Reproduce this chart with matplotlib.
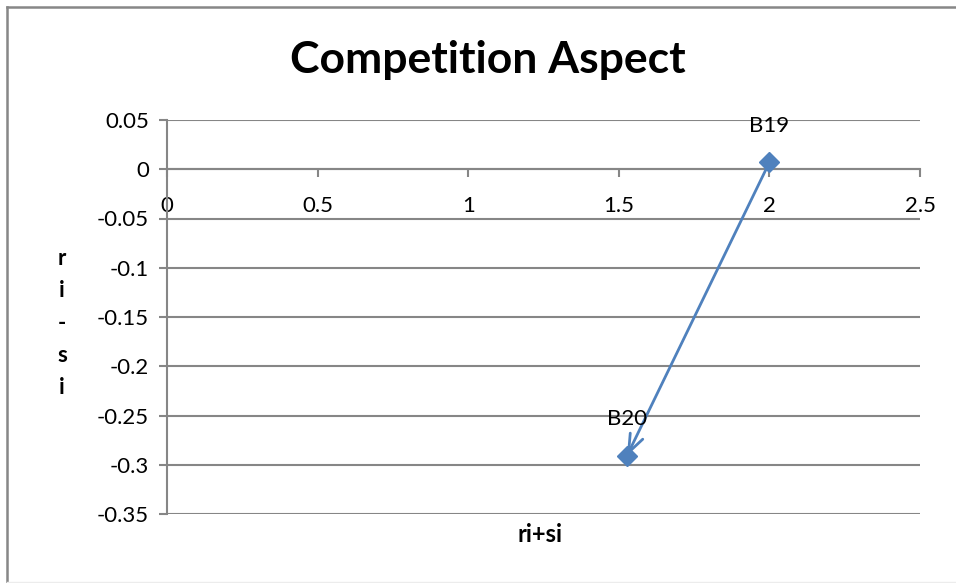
import matplotlib
matplotlib.use("Agg")
import matplotlib.pyplot as plt
from matplotlib.lines import Line2D

plt.rcParams['font.family'] = ['Lato', 'DejaVu Sans']

# Data
labels = ["B19", "B20"]
ri_plus_si = [2.0, 1.527]
ri_minus_si = [0.007, -0.291]

x_ticks = [0, 0.5, 1, 1.5, 2, 2.5]
x_tick_labels = ["0", "0.5", "1", "1.5", "2", "2.5"]
y_ticks = [0.05, 0, -0.05, -0.1, -0.15, -0.2, -0.25, -0.3, -0.35]
y_tick_labels = ["0.05", "0", "-0.05", "-0.1", "-0.15", "-0.2", "-0.25", "-0.3", "-0.35"]

grid_col = "#868686"
series_col = "#4F81BD"

fig = plt.figure(figsize=(9.56, 5.83), dpi=100)
ax = fig.add_axes([167/956, 1-514/583, (920-167)/956, (514-120)/583])

ax.set_xlim(0, 2.5)
ax.set_ylim(-0.35, 0.05)

# horizontal gridlines
ax.set_yticks(y_ticks)
ax.set_yticklabels(y_tick_labels)
ax.set_xticks(x_ticks)
ax.set_xticklabels(x_tick_labels)
ax.yaxis.grid(True, color=grid_col, linewidth=1.5)
ax.set_axisbelow(True)

for s in ("top", "right"):
    ax.spines[s].set_visible(False)
ax.spines["left"].set_color(grid_col)
ax.spines["left"].set_linewidth(1.5)
ax.spines["bottom"].set_position(("data", 0))
ax.spines["bottom"].set_color(grid_col)
ax.spines["bottom"].set_linewidth(1.5)

ax.tick_params(axis="x", direction="out", length=6, width=1.5, color=grid_col,
               labelsize=16, pad=13)
ax.tick_params(axis="y", direction="out", length=6, width=1.5, color=grid_col,
               labelsize=16, pad=7)

# series: arrow from B19 to B20
ax.annotate("", xy=(ri_plus_si[1], ri_minus_si[1]),
            xytext=(ri_plus_si[0], ri_minus_si[0]),
            arrowprops=dict(arrowstyle="->,head_length=1.3,head_width=0.5",
                            color=series_col, lw=2, shrinkA=0, shrinkB=0),
            zorder=3)
ax.plot(ri_plus_si, ri_minus_si, linestyle="none", marker="D", markersize=10,
        color=series_col, zorder=4)

# point labels above markers
for lab, xv, yv in zip(labels, ri_plus_si, ri_minus_si):
    ax.annotate(lab, (xv, yv), xytext=(0, 19), textcoords="offset points",
                ha="center", va="bottom", fontsize=16, color="black")

fig.text(488/956, 1-60/583, "Competition Aspect", ha="center", va="center",
         fontsize=32, fontweight="bold")
fig.text(540/956, 1-535/583, "ri+si", ha="center", va="center",
         fontsize=17, fontweight="bold")
fig.text(62/956, 1-323/583, "r\ni\n-\ns\ni", ha="center", va="center",
         fontsize=16, fontweight="bold", linespacing=1.65)

# chart frame
fig.add_artist(Line2D([7/956, 7/956], [0, 1-7/583], transform=fig.transFigure,
                      color="#878787", linewidth=1.8))
fig.add_artist(Line2D([7/956, 1], [1-7/583, 1-7/583], transform=fig.transFigure,
                      color="#878787", linewidth=1.8))
fig.add_artist(Line2D([7/956, 1], [1.5/583, 1.5/583], transform=fig.transFigure,
                      color="#ececec", linewidth=1.0))

fig.savefig("out.png", dpi=100)
